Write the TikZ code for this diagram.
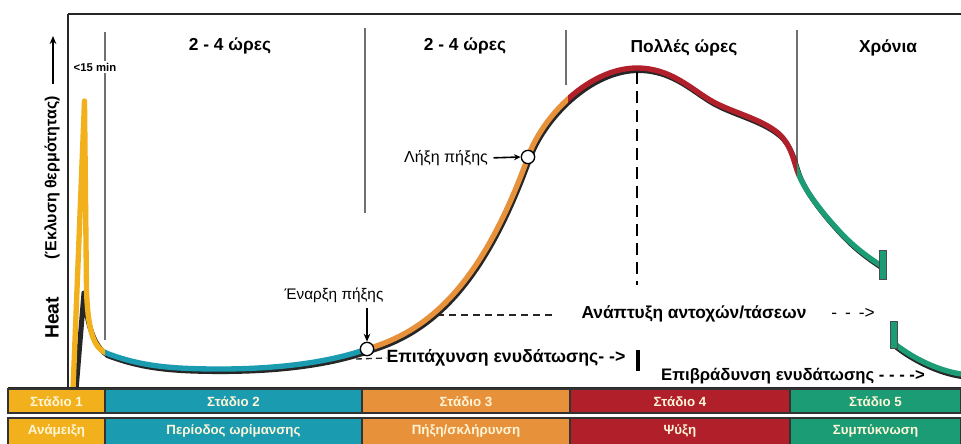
\documentclass[tikz,border=0pt]{standalone}
\usepackage{fontspec}
\setmainfont{Liberation Sans}
\usetikzlibrary{arrows.meta}
\definecolor{cyel}{HTML}{F2B11C}
\definecolor{cteal}{HTML}{1A9BB0}
\definecolor{corange}{HTML}{E8913B}
\definecolor{cred}{HTML}{B01F2A}
\definecolor{cgreen}{HTML}{1B9C74}
\definecolor{ctext}{HTML}{FFF6D8}
\definecolor{cgrid}{HTML}{707070}
\tikzset{
  lbl/.style={inner sep=0pt, anchor=center},
  hdr/.style={lbl, font=\fontsize{13}{13}\selectfont\bfseries},
  tcell/.style={draw=black!80, line width=1pt},
  ttext/.style={lbl, text=ctext, font=\fontsize{10}{10}\selectfont\bfseries},
  gridline/.style={cgrid, line width=0.8pt},
  curveline/.style={line width=4pt, line join=round, line cap=round},
  shadowline/.style={black!85, line width=3.8pt, line join=round, line cap=round},
  mark circle/.style={circle, draw=black, fill=white, line width=1pt, minimum size=10pt, inner sep=0pt},
}
\begin{document}
\begin{tikzpicture}[x=0.75pt,y=-0.75pt]
\useasboundingbox (0,0) rectangle (961,443);
\fill[white] (0,0) rectangle (961,443);

% frame
\draw[black!85, line width=1.6pt] (68,14) -- (961,14);
\draw[black!85, line width=1.6pt] (68,14) -- (68,389);

% time grid lines
\draw[gridline] (105,32) -- (105,340);
\draw[gridline] (365,28) -- (365,213);
\draw[gridline] (566,30) -- (566,85);
\draw[gridline] (797,30) -- (797,172);

% headers
\node[hdr] (h1) at (230,46) {2 - 4 ώρες};
\node[hdr] (h2) at (465,46) {2 - 4 ώρες};
\node[hdr] (h3) at (684,48) {Πολλές ώρες};
\node[hdr] (h4) at (888,48) {Χρόνια};
\node[lbl, fill=white, inner sep=1.5pt, font=\fontsize{8.5}{8.5}\selectfont\bfseries] (h0) at (95,67) {<15 min};

% y axis label
\node[lbl, rotate=90, font=\fontsize{14.5}{14.5}\selectfont\bfseries] (heat) at (52,318) {Heat};
\node[lbl, rotate=90, font=\fontsize{12}{12}\selectfont\bfseries] (ekl) at (52,178) {(Έκλυση θερμότητας)};
\coordinate (ya) at (53,84);
\coordinate (yb) at (53,36);
\draw[line width=1.2pt, -{Stealth[length=6pt,width=5pt]}] (ya) -- (yb);

% shadow of the curve
\draw[shadowline] (76,390) -- (84,293) .. controls (87,325) and (94,347) .. (108,355.5);
\begin{scope}[shift={(1.5,2.5)}]
\draw[shadowline] (106,353) .. controls (140,366) and (170,369) .. (220,369)
   .. controls (280,369) and (330,362) .. (367,349)
   .. controls (425,332) and (480,290) .. (528,157)
   .. controls (543,115) and (590,68) .. (637,68)
   .. controls (670,68) and (690,88) .. (710,100)
   .. controls (730,112) and (760,118) .. (778,133)
   .. controls (790,143) and (793,158) .. (797,170)
   .. controls (802,185) and (815,205) .. (840,232)
   .. controls (855,248) and (868,257) .. (880,265);
\end{scope}
\draw[shadowline, shift={(0.5,2.5)}] (895,344) .. controls (910,356) and (935,370) .. (961,374);

% coloured curve
\foreach \xa/\xb/\cc in {0/105/cyel, 105/364/cteal, 364/568/corange, 568/797/cred, 797/961/cgreen}{
  \begin{scope}
    \clip (\xa,0) rectangle (\xb,388);
    \draw[curveline, \cc] (73,390) -- (84.5,101) -- (86.5,290) .. controls (88,335) and (95,348) .. (106,353);
    \draw[curveline, \cc] (106,353) .. controls (140,366) and (170,369) .. (220,369)
     .. controls (280,369) and (330,362) .. (367,349)
     .. controls (425,332) and (480,290) .. (528,157)
     .. controls (543,115) and (590,68) .. (637,68)
     .. controls (670,68) and (690,88) .. (710,100)
     .. controls (730,112) and (760,118) .. (778,133)
     .. controls (790,143) and (793,158) .. (797,170)
     .. controls (802,185) and (815,205) .. (840,232)
     .. controls (855,248) and (868,257) .. (880,265);
  \end{scope}
}
\draw[curveline, cgreen] (895,344) .. controls (910,356) and (935,370) .. (961,374);

% end bars
\draw[fill=cgreen, draw=black!70, line width=0.6pt] (879,250) rectangle (886,279);
\draw[fill=cgreen, draw=black!70, line width=0.6pt] (890,321) rectangle (897,348);

% peak dashed line
\draw[black, line width=2pt, dash pattern=on 9pt off 5.25pt] (637,72) -- (637,285);

% acceleration (dashes under the marker)
\node[lbl, font=\fontsize{13.3}{13.3}\selectfont\bfseries] (epit) at (506,358) {Επιτάχυνση ενυδάτωσης- ->};
\coordinate (eb) at (638,350);
\coordinate (ec) at (638,371);
\draw[black, line width=2.5pt] (eb) -- (ec);
\coordinate (ed) at (356,359);
\draw[black!85, line width=1pt, dash pattern=on 4.5pt off 3pt] (ed) -- (epit.west);

% markers
\node[mark circle] (c1) at (367,349) {};
\node[mark circle] (c2) at (528,157) {};
\node[lbl, font=\fontsize{11.5}{11.5}\selectfont] (enarxi) at (334,295) {Έναρξη πήξης};
\coordinate (ea) at (367,308);
\draw[line width=1.2pt, -{Stealth[length=6pt,width=5pt]}] (ea) -- (c1.north);
\node[lbl, font=\fontsize{12}{12}\selectfont] (lixi) at (446,158) {Λήξη πήξης};
\draw[line width=1.2pt, -{Stealth[length=5pt,width=4.5pt]}, shorten <=4pt] (lixi.east) -- (c2.west);

% development of strength
\node[lbl, font=\fontsize{13}{13}\selectfont\bfseries] (anapt) at (694,314) {Ανάπτυξη αντοχών/τάσεων};
\coordinate (da) at (437,315);
\coordinate (db) at (555,315);
\draw[black!85, line width=1pt, dash pattern=on 5.25pt off 3.75pt] (da) -- (db);
\node[lbl, font=\fontsize{13}{13}\selectfont] (anaptar) at (853,313) {-\hspace{6pt}-\hspace{6pt}->};

% deceleration
\node[lbl, font=\fontsize{12.5}{12.5}\selectfont\bfseries] (epib) at (793,376) {Επιβράδυνση ενυδάτωσης - - - ->};

% table
\fill[black!85] (8,387) rectangle (961,389);
\foreach \xa/\xb/\cc/\ta/\tb/\nn in {8/105/cyel/{Στάδιο 1}/{Ανάμειξη}/s1, 105/362/cteal/{Στάδιο 2}/{Περίοδος ωρίμανσης}/s2, 362/570/corange/{Στάδιο 3}/{Πήξη/σκλήρυνση}/s3, 570/790/cred/{Στάδιο 4}/{Ψύξη}/s4, 790/961/cgreen/{Στάδιο 5}/{Συμπύκνωση}/s5}{
  \draw[tcell, fill=\cc] (\xa,389) rectangle (\xb,413);
  \draw[tcell, fill=\cc] (\xa,418) rectangle (\xb,445);
  \node[ttext] (\nn a) at ({(\xa+\xb)/2},401.5) {\ta};
  \node[ttext] (\nn b) at ({(\xa+\xb)/2},431) {\tb};
}
\end{tikzpicture}
\end{document}
